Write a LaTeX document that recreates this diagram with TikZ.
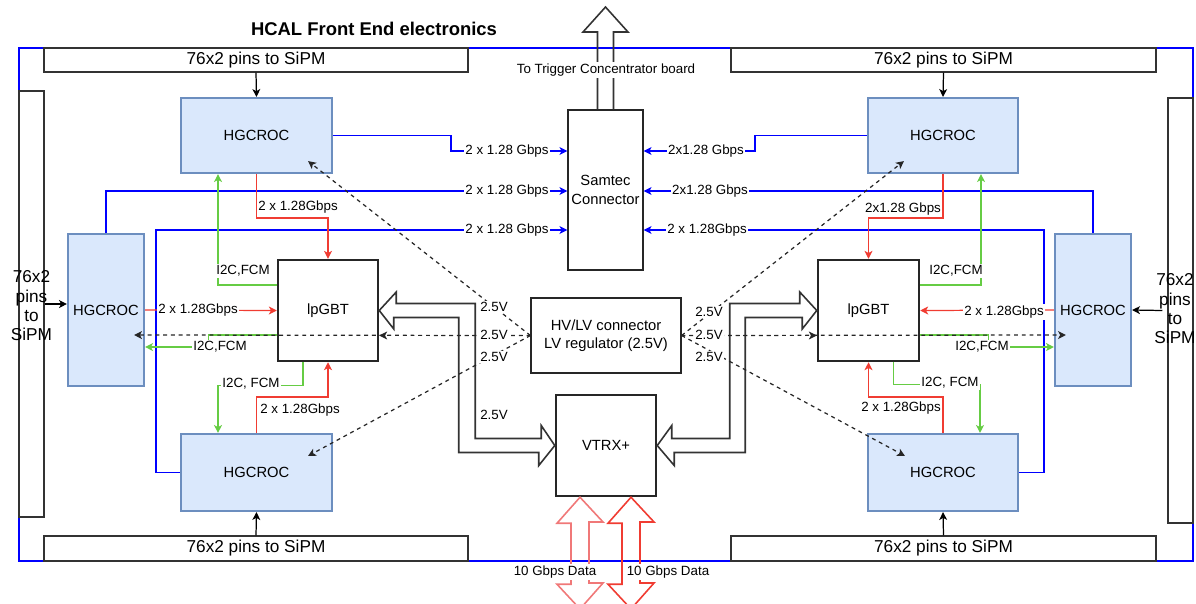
\documentclass[tikz,border=0pt]{standalone}
\usepackage{fontspec}
\setmainfont{Liberation Sans}
\usetikzlibrary{arrows.meta,calc}
\definecolor{hgfill}{HTML}{DAE8FC}
\definecolor{hgdraw}{HTML}{6C8EBF}
\definecolor{cred}{HTML}{F03C32}
\definecolor{cgreen}{HTML}{66CC44}
\definecolor{cblue}{HTML}{0000FF}
\definecolor{lred}{HTML}{F07878}
\begin{document}
\begin{tikzpicture}[x=0.02cm,y=-0.02cm,
  every node/.style={inner sep=0pt},
  sz/.style 2 args={minimum width=#1*0.02cm, minimum height=#2*0.02cm},
  pinbox/.style={draw=black!80,line width=0.6pt,fill=white,inner sep=0pt,font=\fontsize{9.8pt}{11pt}\selectfont},
  pintxt/.style={align=center,font=\fontsize{9.8pt}{11pt}\selectfont},
  hg/.style={draw=hgdraw,fill=hgfill,line width=1.2pt,inner sep=0pt,font=\fontsize{8.4pt}{10pt}\selectfont},
  tbox/.style={draw=black!85,line width=1.4pt,inner sep=0pt,font=\fontsize{8.4pt}{10pt}\selectfont},
  nbox/.style={draw=black!85,line width=0.7pt,fill=white,inner sep=0pt,align=center,font=\fontsize{8.4pt}{10.6pt}\selectfont},
  arr/.style={-{Stealth[length=4.5pt,width=4.5pt,inset=1.2pt]}},
  bl/.style={draw=cblue,line width=0.7pt,arr},
  rd/.style={draw=cred,line width=0.7pt,arr},
  gr/.style={draw=cgreen,line width=0.7pt,arr},
  bk/.style={draw=black,line width=0.7pt,arr},
  ds/.style={draw=black!85,line width=0.7pt,dash pattern=on 2.2pt off 2.2pt,arr},
  lbl/.style={font=\fontsize{7.6pt}{9pt}\selectfont,inner sep=0.8pt},
  wl/.style={lbl,fill=white},
  flex/.style={draw=black!80,line width=0.9pt,line join=miter},
]
\useasboundingbox (0,0) rectangle (1196,603);

% board outline
\node[draw=cblue,line width=0.7pt,sz={1174}{513}] (board) at (606,304.5) {};

% title
\node[font=\fontsize{10.5pt}{12pt}\selectfont\bfseries] (title) at (374,29) {HCAL Front End electronics};

% pin connectors
\node[pinbox, sz={424}{24}] (ptl) at (256,60) {76x2 pins to SiPM};
\node[pinbox, sz={425}{24}] (ptr) at (943.5,60) {76x2 pins to SiPM};
\node[pinbox, sz={424}{25}] (pbl) at (256,548.5) {76x2 pins to SiPM};
\node[pinbox, sz={425}{25}] (pbr) at (943.5,548.5) {76x2 pins to SiPM};
\node[pinbox, sz={25}{426}] (pl) at (31.5,304) {};
\node[pintxt] (plt) at (31.5,306) {76x2\\pins\\to\\SiPM};
\node[pinbox, sz={25}{425}] (pr) at (1180.5,310.5) {};
\node[pintxt] (prt) at (1175,309) {76x2\\pins\\to\\SiPM};

% HGCROCs
\node[hg, sz={151}{75}] (hgtl) at (256.5,135.5) {HGCROC};
\node[hg, sz={150}{75}] (hgtr) at (943,135.5) {HGCROC};
\node[hg, sz={151}{77}] (hgbl) at (256.5,472.5) {HGCROC};
\node[hg, sz={150}{77}] (hgbr) at (943,472.5) {HGCROC};
\node[hg, sz={76}{152}] (hgl) at (106,310) {HGCROC};
\node[hg, sz={76}{152}] (hgr) at (1093,310) {HGCROC};

% central boxes
\node[tbox, sz={100}{101}] (lpL) at (328,310.5) {lpGBT};
\node[tbox, sz={101}{101}] (lpR) at (868.5,310.5) {lpGBT};
\node[nbox, sz={75}{160}] (samtec) at (605.5,190) {Samtec\\Connector};
\node[nbox, sz={150}{75}] (hvlv) at (606,335.5) {HV/LV connector\\LV regulator (2.5V)};
\node[tbox, fill=white, sz={100}{101}] (vtrx) at (606,445.5) {VTRX+};

% trigger arrow
\coordinate (trig) at (605.5,7);
\draw[flex] ($(samtec.north)+(-8,0)$) -- ($(trig)+(-8,25)$) -- ($(trig)+(-22.5,25)$) -- (trig)
  -- ($(trig)+(22.5,25)$) -- ($(trig)+(8,25)$) -- ($(samtec.north)+(8,0)$);
\node[wl] (ltrig) at (606,70) {To Trigger Concentrator board};

% data arrows
\coordinate (d1) at (580,609);
\coordinate (d2) at (631,609);
\draw[flex,draw=lred] ($(vtrx.south)+(-26,0)$) -- ++(-23,26) -- ++(14,0) -- ++(0,61) -- ++(-14,0) -- (d1)
  -- ++(23,-26) -- ++(-14,0) -- ++(0,-61) -- ++(14,0) -- cycle;
\draw[flex,draw=cred] ($(vtrx.south)+(25,0)$) -- ++(-23,26) -- ++(14,0) -- ++(0,61) -- ++(-14,0) -- (d2)
  -- ++(23,-26) -- ++(-14,0) -- ++(0,-61) -- ++(14,0) -- cycle;
\node[wl] (ld1) at (555,572) {10 Gbps Data};
\node[wl] (ld2) at (668,572) {10 Gbps Data};

% pin arrows
\draw[bk] (ptl.south) -- (hgtl.north);
\draw[bk] (ptr.south) -- (hgtr.north);
\draw[bk] (pbl.north) -- (hgbl.south);
\draw[bk] (pbr.north) -- (hgbr.south);
\draw[bk] (pl.east) -- (hgl.west |- pl.east);
\draw[bk] ($(pr.west)+(-5,0)$) -- (hgr.east);

% blue links to Samtec
\draw[bl] (hgtl.east) -- ++(118,0) |- ($(samtec.west)+(0,-39)$);
\draw[bl] (hgl.north) |- ($(samtec.west)+(0,1)$);
\draw[bl] (hgbl.west) -- ++(-24,0) |- ($(samtec.west)+(0,40)$);
\draw[bl] (hgtr.west) -- ++(-112,0) |- ($(samtec.east)+(0,-39)$);
\draw[bl] (hgr.north) |- ($(samtec.east)+(0,1)$);
\draw[bl] (hgbr.east) -- ++(25,0) |- ($(samtec.east)+(0,40)$);

% red links to lpGBT
\draw[rd] (hgtl.south) -- ++(0,44) -| (lpL.north);
\draw[rd] (hgl.east) -- (lpL.west);
\draw[rd] (hgbl.north) -- ++(0,-36) -| (lpL.south);
\draw[rd] (hgtr.south) -- ++(0,44) -| (lpR.north);
\draw[rd] (hgr.west) -- (lpR.east);
\draw[rd] (hgbr.north) -- ++(0,-36) -| (lpR.south);

% green control links
\draw[gr] ($(lpL.west)+(0,-25.5)$) -| ($(hgtl.south)+(-38.5,0)$);
\draw[gr] ($(lpL.west)+(0,24.5)$) -- ++(-68,0) |- ($(hgl.east)+(0,37)$);
\draw[gr] ($(lpL.south)+(-25,0)$) -- ++(0,23) -| ($(hgbl.north)+(-38.5,0)$);
\draw[gr] ($(lpR.east)+(0,-25.5)$) -| ($(hgtr.south)+(38,0)$);
\draw[gr] ($(lpR.east)+(0,24.5)$) -- ++(68,0) |- ($(hgr.west)+(0,37)$);
\draw[gr] ($(lpR.south)+(25,0)$) -- ++(0,22) -| ($(hgbr.north)+(37,0)$);

% hollow power arrows to VTRX+
\draw[flex] (lpL.east) -- ++(17,-18.5) -- ++(0,11.5) -- ++(79,0) -- ++(0,135) -- ++(66,0) -- ++(0,-13)
  -- (vtrx.west) -- ++(-16,20) -- ++(0,-13) -- ++(-80,0) -- ++(0,-135) -- ++(-65,0) -- ++(0,11.5) -- cycle;
\draw[flex] (lpR.west) -- ++(-17,-18.5) -- ++(0,11.5) -- ++(-70,0) -- ++(0,135) -- ++(-58,0) -- ++(0,-13)
  -- (vtrx.east) -- ++(17,20) -- ++(0,-13) -- ++(71,0) -- ++(0,-135) -- ++(57,0) -- ++(0,11.5) -- cycle;

% dashed 2.5V supply lines
\draw[ds] (hvlv.west) -- ($(hgtl.south east)+(-25,-13)$);
\draw[ds] (hvlv.west) -- (lpL.east |- hvlv.west);
\draw[ds] (hvlv.west) -- ($(hgl.east)+(-11,25)$);
\draw[ds] (hvlv.west) -- ($(hgbl.north east)+(-25,23)$);
\draw[ds] (hvlv.east) -- ($(hgtr.south west)+(37,-13)$);
\draw[ds] (hvlv.east) -- (lpR.west |- hvlv.east);
\draw[ds] (hvlv.east) -- ($(hgr.west)+(12,25)$);
\draw[ds] (hvlv.east) -- ($(hgbr.north west)+(38,23)$);

% labels
\node[wl] (lb1) at (507,151) {2 x 1.28 Gbps};
\node[wl] (lb2) at (507,191) {2 x 1.28 Gbps};
\node[wl] (lb3) at (507,230) {2 x 1.28 Gbps};
\node[wl] (lb4) at (706,151) {2x1.28 Gbps};
\node[wl] (lb5) at (710,191) {2x1.28 Gbps};
\node[wl] (lb6) at (707,230) {2 x 1.28Gbps};

\node[lbl] (lr1) at (298,207) {2 x 1.28Gbps};
\node[wl] (lr2) at (198,310) {2 x 1.28Gbps};
\node[lbl] (lr3) at (300,410) {2 x 1.28Gbps};
\node[lbl] (lr4) at (903,209) {2x1.28 Gbps};
\node[wl] (lr5) at (1004,312) {2 x 1.28Gbps};
\node[lbl] (lr6) at (901,408) {2 x 1.28Gbps};

\node[wl] (lg1) at (243,271) {I2C,FCM};
\node[wl] (lg2) at (220,347) {I2C,FCM};
\node[wl] (lg3) at (251,384) {I2C, FCM};
\node[wl] (lg4) at (956,271) {I2C,FCM};
\node[wl] (lg5) at (982,347) {I2C,FCM};
\node[wl] (lg6) at (950,383) {I2C, FCM};

\node[wl] (lv1) at (494,307) {2.5V};
\node[wl] (lv2) at (494,335) {2.5V};
\node[wl] (lv3) at (494,357) {2.5V};
\node[wl] (lv4) at (494,415) {2.5V};
\node[wl] (lv5) at (709,312) {2.5V};
\node[wl] (lv6) at (709,335) {2.5V};
\node[wl] (lv7) at (709,357) {2.5V};
\end{tikzpicture}
\end{document}
